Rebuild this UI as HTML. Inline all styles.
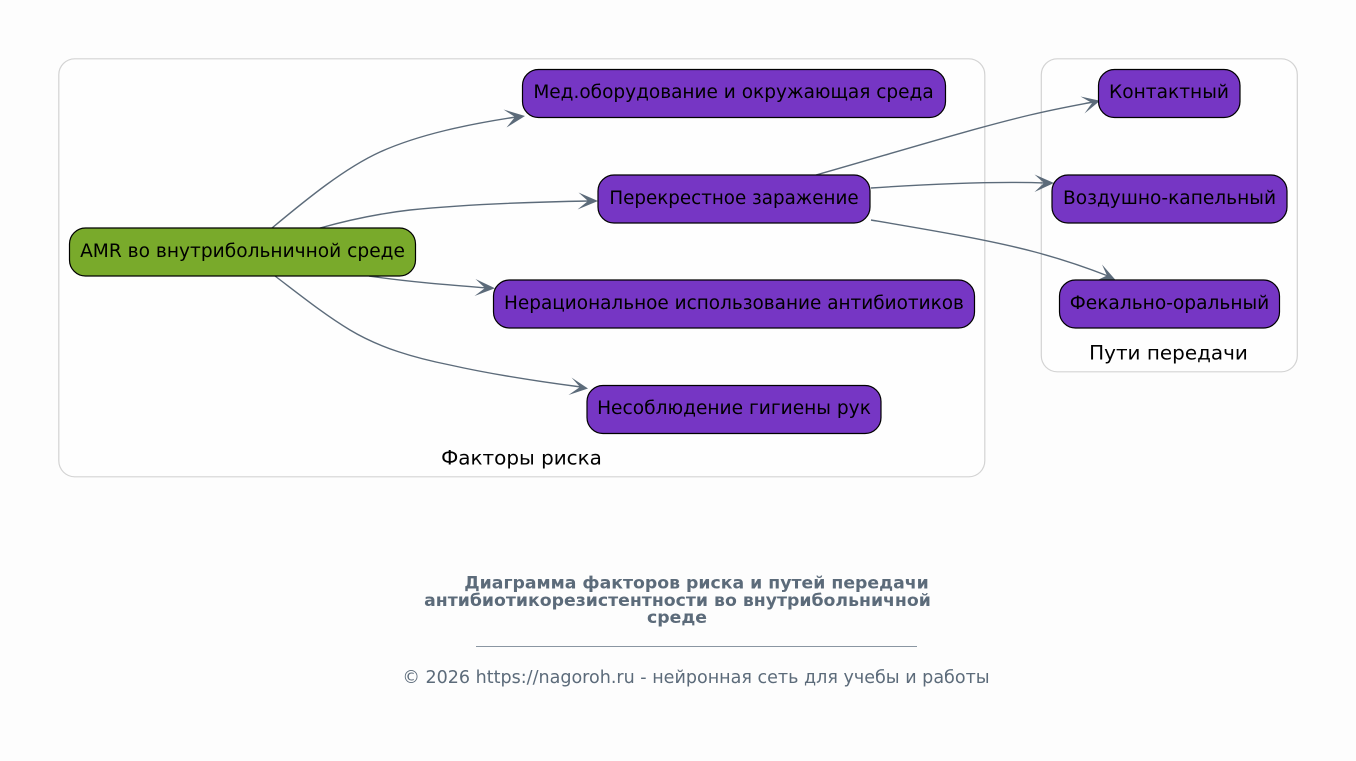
<!DOCTYPE html>
<html lang="ru"><head><meta charset="utf-8"><style>
html,body{margin:0;padding:0;background:#fdfdfd;width:1356px;height:761px;overflow:hidden}
svg{display:block}
text{font-family:"DejaVu Sans",sans-serif}
.n{font-size:18.6px;fill:#000;text-anchor:middle}
.g{font-size:19.95px;fill:#000;text-anchor:middle}
.e{fill:none;stroke:#5c6b7a;stroke-width:1.4}
.a{fill:#5c6b7a}
.p{fill:#7636c4;stroke:#000;stroke-width:1.2}
.t{font-size:17.3px;font-weight:bold;fill:#5c6b7a;text-anchor:middle}
</style></head><body>
<svg width="1356" height="761" viewBox="0 0 1356 761" xmlns="http://www.w3.org/2000/svg">
<rect width="1356" height="761" fill="#fdfdfd"/>
<rect x="58.8" y="58.8" width="926" height="418" rx="16" fill="#fefefe" stroke="#d3d3d3" stroke-width="1.2"/>
<rect x="1041.3" y="58.8" width="256" height="313" rx="16" fill="#fefefe" stroke="#d3d3d3" stroke-width="1.2"/>
<text class="g" x="521.5" y="464.5">Факторы риска</text>
<text class="g" x="1168.5" y="359.5">Пути передачи</text>

<path class="e" d="M272 228C308 198 345 168 380 152C420 134 470 124 516 117"/>
<path class="e" d="M320 228C345 221 375 214 410 210C470 204 530 202 590 201"/>
<path class="e" d="M369 276C410 282 450 285 487 288"/>
<path class="e" d="M275 276C300 295 325 315 350 330C380 348 415 358 450 365C490 374 535 381 581 387"/>
<path class="e" d="M816 175C900 151 975 128 1030 115C1055 109 1072 106 1093 102"/>
<path class="e" d="M871 188C930 184 990 181 1046 183"/>
<path class="e" d="M871 220C930 230 990 240 1035 252C1065 260 1085 267 1108 276"/>

<path class="a" d="M525 116L503.5 109.5L515 117L506.5 127.5Z"/>
<path class="a" d="M598 201L578.5 192.5L588 201L577.5 209.5Z"/>
<path class="a" d="M495 288.3L475.5 279L485 288L474.5 296Z"/>
<path class="a" d="M588 388.5L571.5 377.5L580 387L568.5 395Z"/>
<path class="a" d="M1100 100.7L1080.5 96.5L1092 103L1084.5 113.5Z"/>
<path class="a" d="M1054 183L1034.5 174.5L1044 183L1034.5 192Z"/>
<path class="a" d="M1116 280.5L1102 264.5L1107 275.5L1096.5 280.5Z"/>

<rect class="p" x="69.5" y="228" width="346" height="48" rx="16" style="fill:#79aa2b"/>
<rect class="p" x="522.5" y="69.5" width="423" height="48" rx="16"/>
<rect class="p" x="598" y="175" width="272" height="48" rx="16"/>
<rect class="p" x="493.5" y="280" width="481" height="48" rx="16"/>
<rect class="p" x="587" y="385.5" width="294" height="48" rx="16"/>
<rect class="p" x="1098.5" y="69.5" width="141.5" height="48" rx="16"/>
<rect class="p" x="1052" y="175" width="235" height="48" rx="16"/>
<rect class="p" x="1059.5" y="280" width="220" height="48" rx="16"/>

<text class="n" x="242.5" y="257">AMR во внутрибольничной среде</text>
<text class="n" x="733.5" y="98" style="font-size:18.5px">Мед.оборудование и окружающая среда</text>
<text class="n" x="734" y="204" style="font-size:18.3px">Перекрестное заражение</text>
<text class="n" x="734" y="309" style="font-size:18.44px">Нерациональное использование антибиотиков</text>
<text class="n" x="734" y="414">Несоблюдение гигиены рук</text>
<text class="n" x="1169" y="98">Контактный</text>
<text class="n" x="1169.5" y="204">Воздушно-капельный</text>
<text class="n" x="1169.5" y="309">Фекально-оральный</text>

<text class="t" x="696.5" y="588.4">Диаграмма факторов риска и путей передачи</text>
<text class="t" x="677.5" y="606">антибиотикорезистентности во внутрибольничной</text>
<text class="t" x="677" y="623">среде</text>
<rect x="476" y="646" width="441" height="1" fill="#8a96a2"/>
<text x="696" y="683" style="font-size:17.55px;fill:#5c6b7a;text-anchor:middle">© 2026 https://nagoroh.ru - нейронная сеть для учебы и работы</text>
</svg>
</body></html>
